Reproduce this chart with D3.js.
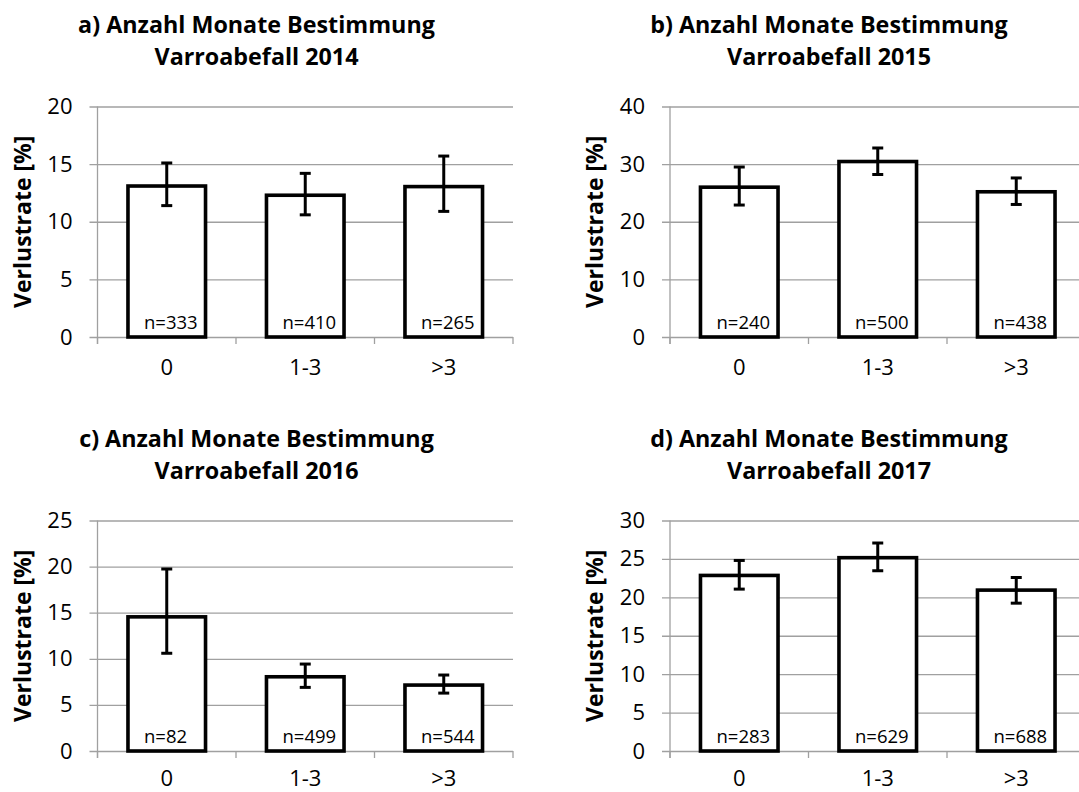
<!DOCTYPE html>
<html>
<head>
<meta charset="utf-8">
<script src="https://cdn.jsdelivr.net/npm/d3@7"></script>
<style>
  body { margin: 0; background: #fff; }
  svg { display: block; }
  text { font-family: "Open Sans", "Noto Sans", sans-serif; fill: #000; }
</style>
</head>
<body>
<svg id="chart" width="1079" height="792"></svg>
<script>
// Categories: number of months in which varroa mite fall was determined
const categories = ["0", "1-3", ">3"];
const years = [2014, 2015, 2016, 2017];
const panelLetters = ["a", "b", "c", "d"];

// Winter loss rate [%] per category, with lower/upper bounds of the error bars
const loss2014 = [13.1, 12.3, 13.05];
const lower2014 = [11.4, 10.6, 10.9];
const upper2014 = [15.1, 14.2, 15.7];
const n2014 = [333, 410, 265];

const loss2015 = [26.0, 30.45, 25.2];
const lower2015 = [22.9, 28.2, 23.0];
const upper2015 = [29.5, 32.8, 27.6];
const n2015 = [240, 500, 438];

const loss2016 = [14.55, 8.05, 7.15];
const lower2016 = [10.6, 6.9, 6.28];
const upper2016 = [19.74, 9.43, 8.24];
const n2016 = [82, 499, 544];

const loss2017 = [22.85, 25.16, 20.94];
const lower2017 = [21.07, 23.46, 19.24];
const upper2017 = [24.8, 27.07, 22.58];
const n2017 = [283, 629, 688];

// y axis extent and tick step per panel
const yMax = [20, 40, 25, 30];
const yStep = [5, 10, 5, 5];

const panels = [
  { loss: loss2014, lower: lower2014, upper: upper2014, n: n2014 },
  { loss: loss2015, lower: lower2015, upper: upper2015, n: n2015 },
  { loss: loss2016, lower: lower2016, upper: upper2016, n: n2016 },
  { loss: loss2017, lower: lower2017, upper: upper2017, n: n2017 }
].map((p, i) => ({ ...p, year: years[i], letter: panelLetters[i], max: yMax[i], step: yStep[i] }));

const svg = d3.select("#chart");
svg.append("rect").attr("width", 1079).attr("height", 792).attr("fill", "#fff");

const plotW = 415.5, plotH = 230.5;
const colX = [97.5, 670], rowY = [106.5, 520.5];
const labelPad = [22, 19]; // category label offset below the baseline, per row
const gridColor = "#a0a0a0";

panels.forEach((p, i) => {
  const row = Math.floor(i / 2);
  const ox = colX[i % 2], oy = rowY[row];
  const g = svg.append("g").attr("transform", `translate(${ox},${oy})`);

  const x = d3.scaleBand().domain(categories).range([0, plotW])
    .paddingInner(0.44).paddingOuter(0.22);
  const y = d3.scaleLinear().domain([0, p.max]).range([plotH, 0]);
  const ticks = d3.range(0, p.max + p.step / 2, p.step);

  // Horizontal gridlines (extend slightly left of the axis like tick marks)
  const grid = g.append("g").attr("transform", "translate(-8,0)")
    .call(d3.axisLeft(y).tickValues(ticks).tickSize(-(plotW + 8)).tickFormat(""));
  grid.select(".domain").remove();
  grid.selectAll(".tick line").attr("stroke", gridColor).attr("stroke-width", 1.3);

  // Vertical axis line
  g.append("line").attr("x1", 0).attr("x2", 0).attr("y1", 0).attr("y2", plotH + 7)
    .attr("stroke", gridColor).attr("stroke-width", 1.3);

  // Category boundary ticks below the baseline
  const bounds = categories.map(c => x(c) + x.bandwidth() / 2 - x.step() / 2).concat([plotW]);
  g.selectAll("line.xtick").data(bounds).join("line").attr("class", "xtick")
    .attr("x1", d => d).attr("x2", d => d).attr("y1", plotH).attr("y2", plotH + 7)
    .attr("stroke", gridColor).attr("stroke-width", 1.3);

  // y tick labels
  const yAxis = g.append("g").call(d3.axisLeft(y).tickValues(ticks).tickSize(0).tickPadding(25));
  yAxis.select(".domain").remove();
  yAxis.selectAll("text").attr("font-size", 22).attr("font-family", '"Open Sans", sans-serif').attr("fill", "#000");

  // x category labels
  const xAxis = g.append("g").attr("transform", `translate(0,${plotH})`)
    .call(d3.axisBottom(x).tickSize(0).tickPadding(labelPad[row]));
  xAxis.select(".domain").remove();
  xAxis.selectAll("text").attr("font-size", 22).attr("font-family", '"Open Sans", sans-serif').attr("fill", "#000");

  const rows = categories.map((c, k) => ({ c, v: p.loss[k], lo: p.lower[k], hi: p.upper[k], n: p.n[k] }));

  // Bars
  g.selectAll("rect.bar").data(rows).join("rect").attr("class", "bar")
    .attr("x", d => x(d.c)).attr("width", x.bandwidth())
    .attr("y", d => y(d.v)).attr("height", d => y(0) - y(d.v))
    .attr("fill", "#fff").attr("stroke", "#000").attr("stroke-width", 3.6);

  // Error bars
  const cap = 5.5;
  const eb = g.selectAll("g.err").data(rows).join("g").attr("class", "err")
    .attr("stroke", "#000").attr("stroke-width", 3);
  eb.append("line").attr("x1", d => x(d.c) + x.bandwidth() / 2).attr("x2", d => x(d.c) + x.bandwidth() / 2)
    .attr("y1", d => y(d.hi)).attr("y2", d => y(d.lo));
  eb.append("line").attr("x1", d => x(d.c) + x.bandwidth() / 2 - cap).attr("x2", d => x(d.c) + x.bandwidth() / 2 + cap)
    .attr("y1", d => y(d.hi)).attr("y2", d => y(d.hi));
  eb.append("line").attr("x1", d => x(d.c) + x.bandwidth() / 2 - cap).attr("x2", d => x(d.c) + x.bandwidth() / 2 + cap)
    .attr("y1", d => y(d.lo)).attr("y2", d => y(d.lo));

  // Sample sizes inside the bars
  g.selectAll("text.n").data(rows).join("text").attr("class", "n")
    .attr("x", d => x(d.c) + 16).attr("y", plotH - 8)
    .attr("font-size", 18.5).text(d => `n=${d.n}`);

  // y axis title
  g.append("text").attr("transform", `translate(-67,${plotH / 2}) rotate(-90)`)
    .attr("text-anchor", "middle").attr("font-size", 23).attr("font-weight", "bold")
    .text("Verlustrate [%]");

  // Panel title
  const title = g.append("text").attr("text-anchor", "middle").attr("font-size", 23.3).attr("font-weight", "bold");
  title.append("tspan").attr("x", 159).attr("y", -74).text(`${p.letter}) Anzahl Monate Bestimmung`);
  title.append("tspan").attr("x", 159).attr("y", -42).text(`Varroabefall ${p.year}`);
});
</script>
</body>
</html>
